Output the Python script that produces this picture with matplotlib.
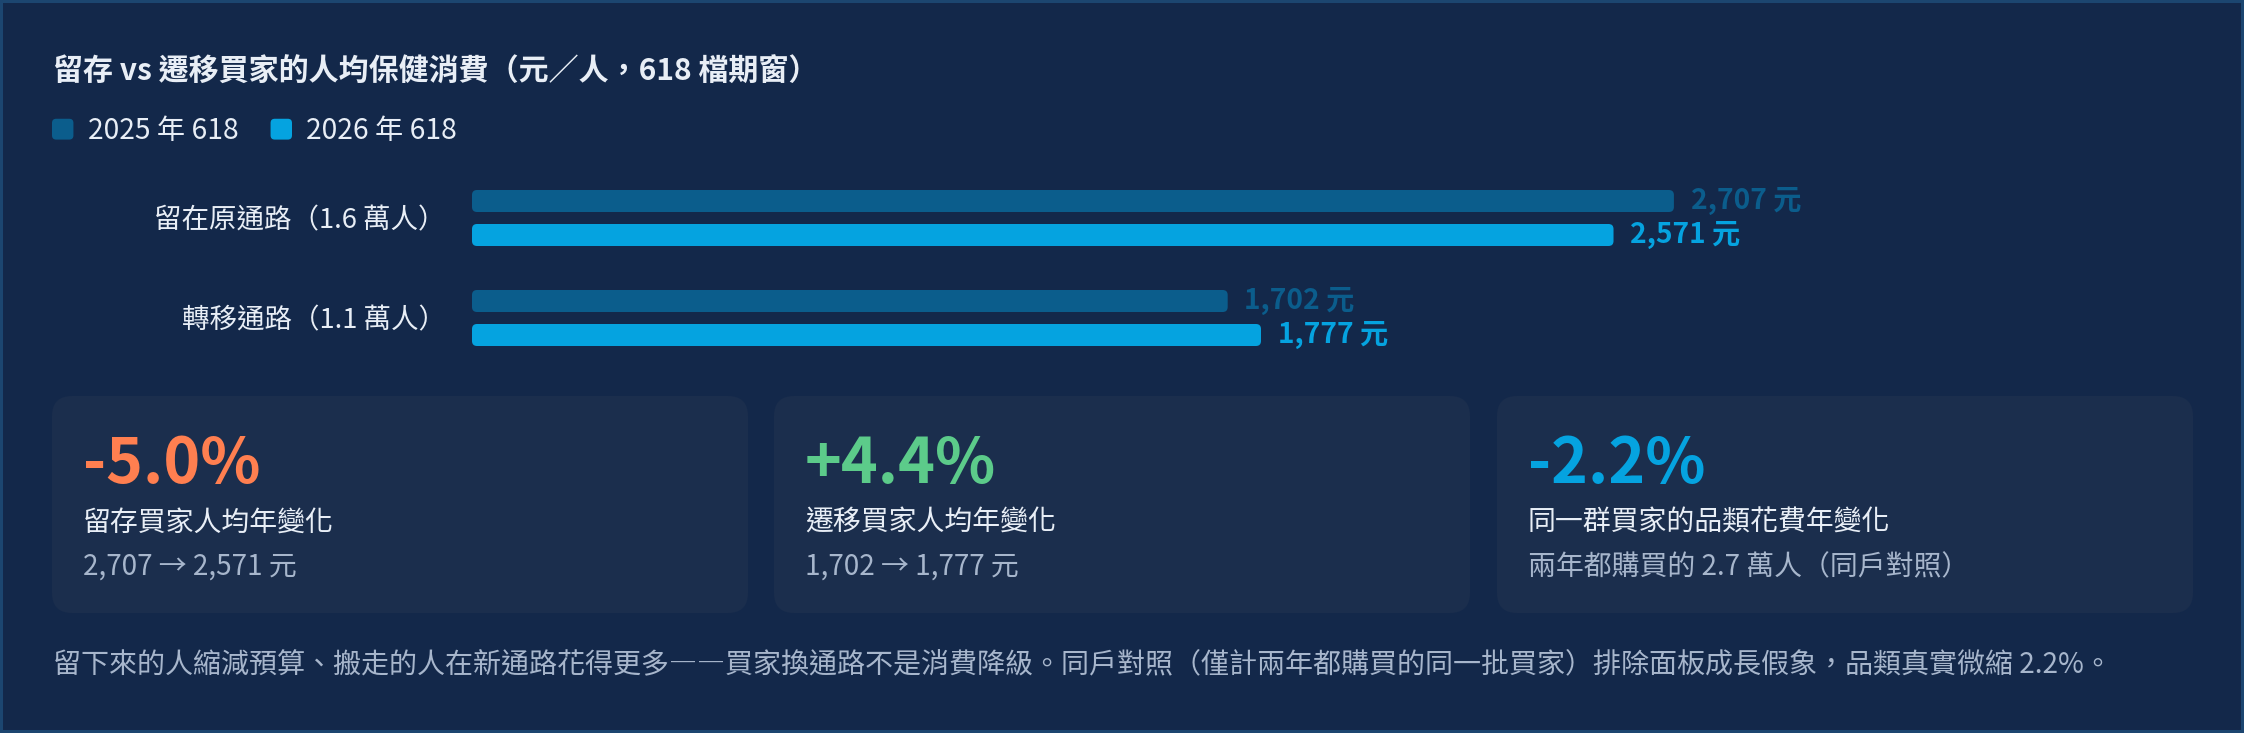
import matplotlib.pyplot as plt
from matplotlib.patches import FancyBboxPatch, Rectangle, Patch
from matplotlib.legend_handler import HandlerPatch

# ---- data ----
groups = ["留在原通路（1.6 萬人）", "轉移通路（1.1 萬人）"]
series = ["2025 年 618", "2026 年 618"]
spend_2025 = [2707, 1702]
spend_2026 = [2571, 1777]

card_pct = [-5.0, 4.4, -2.2]
card_titles = ["留存買家人均年變化", "遷移買家人均年變化", "同一群買家的品類花費年變化"]
card_notes = [f"{spend_2025[0]:,} → {spend_2026[0]:,} 元",
              f"{spend_2025[1]:,} → {spend_2026[1]:,} 元",
              "兩年都購買的 2.7 萬人（同戶對照）"]

title = "留存 vs 遷移買家的人均保健消費（元／人，618 檔期窗）"
footnote = ("留下來的人縮減預算、搬走的人在新通路花得更多――買家換通路不是消費降級。"
            "同戶對照（僅計兩年都購買的同一批買家）排除面板成長假象，品類真實微縮 2.2%。")

# ---- style ----
BG = "#13284a"
CARD = "#1b2e4d"
TXT = "#e8eef6"
SUB = "#a7b6cc"
C25 = "#0b5d8c"
C26 = "#05a3e0"
card_colors = ["#ff7f50", "#5ccb8a", C26]

plt.rcParams['font.family'] = ['Noto Sans CJK TC', 'DejaVu Sans']

W, H = 2244, 733
fig = plt.figure(figsize=(W / 100, H / 100), dpi=100, facecolor=BG)

# background axes in pixel units (y down)
bg = fig.add_axes([0, 0, 1, 1])
bg.set_xlim(0, W)
bg.set_ylim(H, 0)
bg.axis("off")
bg.add_patch(Rectangle((1, 1), W - 3, H - 3, fill=False, ec="#1c4670", lw=2.2))

bg.text(53, 72, title, fontsize=21.6, fontweight="bold", color=TXT, va="center")


# legend with rounded swatches
class RoundSwatch(HandlerPatch):
    def create_artists(self, legend, orig_handle, xdescent, ydescent, width, height, fontsize, trans):
        p = FancyBboxPatch((-xdescent, -ydescent), width, height,
                           boxstyle="round,pad=0,rounding_size=3",
                           fc=orig_handle.get_facecolor(), ec="none", transform=trans)
        return [p]


handles = [Patch(fc=C25, ec="none"), Patch(fc=C26, ec="none")]
fig.legend(handles, series, loc="center left", bbox_to_anchor=(52 / W, 1 - 131 / H),
           ncol=2, frameon=False, fontsize=20.3, labelcolor=TXT,
           handlelength=0.76, handleheight=0.76, handletextpad=0.5,
           columnspacing=1.15, borderpad=0, borderaxespad=0,
           handler_map={Patch: RoundSwatch()})

# ---- bars ----
px_per_unit = 0.444
left_px, right_px, top_px, bot_px = 472, 2140, 168, 368
ax = fig.add_axes([left_px / W, 1 - bot_px / H, (right_px - left_px) / W, (bot_px - top_px) / H])
ax.set_facecolor("none")
ax.set_xlim(0, (right_px - left_px) / px_per_unit)
ax.set_ylim(1.5, -0.5)
for s in ax.spines.values():
    s.set_visible(False)
ax.set_xticks([])
ax.set_yticks(range(len(groups)), groups)
ax.tick_params(axis="y", length=0, pad=19, labelsize=19.8, labelcolor=TXT)

x_per_px = 1 / px_per_unit
y_per_px = 2.0 / (bot_px - top_px)
aspect = y_per_px / x_per_px
bar_h = 0.22
off = 0.17
for i in range(len(groups)):
    for val, dy, col in [(spend_2025[i], -off, C25), (spend_2026[i], off, C26)]:
        y = i + dy
        ax.add_patch(FancyBboxPatch((0, y - bar_h / 2), val, bar_h,
                                    boxstyle=f"round,pad=0,rounding_size={5 * x_per_px}",
                                    mutation_aspect=aspect, fc=col, ec="none"))
        ax.annotate(f"{val:,} 元", (val, y), xytext=(12, 0), textcoords="offset points",
                    va="center", ha="left", fontsize=20.3, fontweight="bold", color=col)

# ---- cards ----
card_x = [52, 774, 1497]
card_w = 696
card_top, card_bot = 396, 613
for i in range(3):
    x0 = card_x[i]
    bg.add_patch(FancyBboxPatch((x0, card_top), card_w, card_bot - card_top,
                                boxstyle="round,pad=0,rounding_size=20", fc=CARD, ec="none"))
    bg.text(x0 + 31, 465, f"{card_pct[i]:+.1f}%", fontsize=45, fontweight="bold",
            color=card_colors[i], va="center")
    bg.text(x0 + 31, 523, card_titles[i], fontsize=20.1, color=TXT, va="center")
    bg.text(x0 + 31, 567, card_notes[i], fontsize=20.1, color=SUB, va="center")

bg.text(53, 664, footnote, fontsize=20.2, color=SUB, va="center")

fig.savefig("out.png", dpi=100, facecolor=BG)
